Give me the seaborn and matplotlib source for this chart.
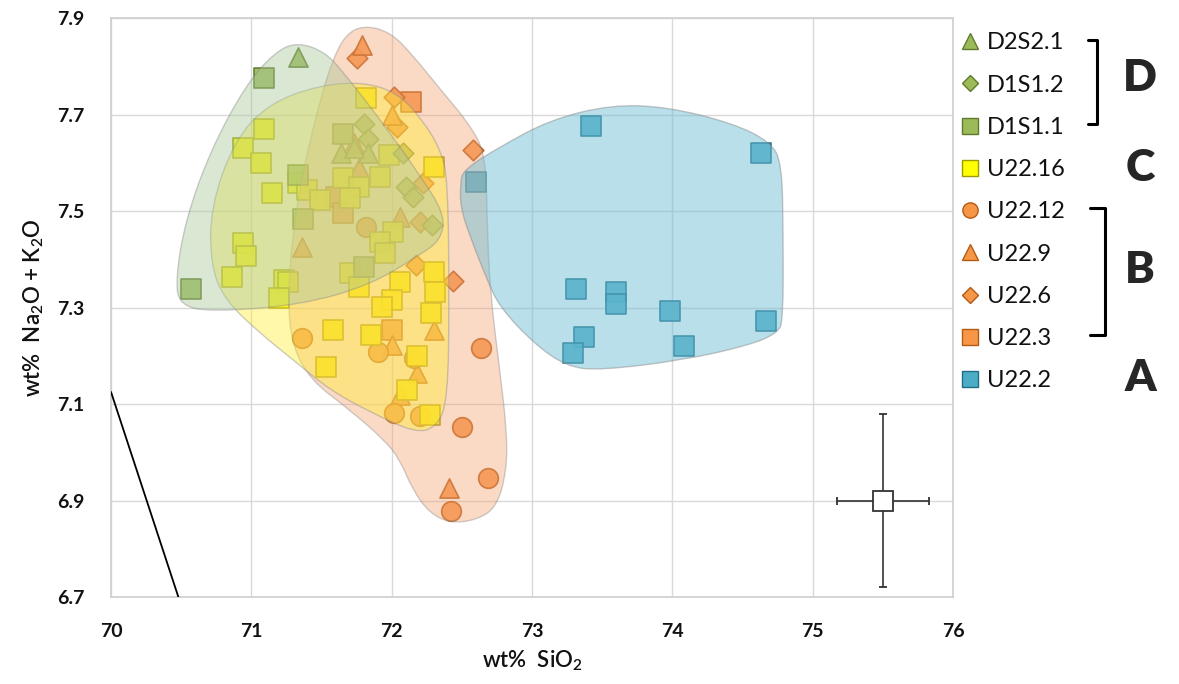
import numpy as np
import pandas as pd
import matplotlib.pyplot as plt
import seaborn as sns
from matplotlib.path import Path
from matplotlib.patches import PathPatch
from matplotlib.lines import Line2D

sns.set_theme(style="whitegrid")
plt.rcParams['font.family'] = ['Lato', 'DejaVu Sans']
plt.rcParams['mathtext.default'] = 'regular'

# ---- data ----
d2s21_x = [71.33, 71.64, 71.83, 71.73]
d2s21_y = [7.82, 7.62, 7.62, 7.63]

d1s12_x = [71.80, 71.83, 72.08, 72.10, 72.15, 72.29]
d1s12_y = [7.68, 7.65, 7.62, 7.55, 7.53, 7.47]

d1s11_x = [71.09, 70.57, 71.37, 71.33, 71.65, 71.80]
d1s11_y = [7.776, 7.338, 7.483, 7.575, 7.66, 7.384]

u2216_x = [71.09, 70.94, 71.07, 71.15, 71.33, 71.40, 71.49, 71.65, 71.82, 70.94,
           70.96, 70.86, 71.23, 71.26, 71.20, 71.58, 71.53, 71.70, 71.77, 71.98,
           72.30, 71.92, 71.77, 71.70, 72.01, 71.92, 71.95, 72.06, 72.30, 72.31,
           72.00, 71.93, 72.28, 71.85, 72.18, 72.11, 72.27]
u2216_y = [7.670, 7.631, 7.600, 7.537, 7.558, 7.543, 7.523, 7.568, 7.734, 7.434,
           7.407, 7.363, 7.357, 7.353, 7.320, 7.253, 7.177, 7.372, 7.342, 7.616,
           7.591, 7.570, 7.550, 7.527, 7.456, 7.436, 7.413, 7.353, 7.374, 7.332,
           7.316, 7.301, 7.289, 7.243, 7.200, 7.129, 7.077]

u2212_x = [71.82, 71.36, 71.90, 72.16, 72.02, 72.20, 72.64, 72.50, 72.69, 72.42]
u2212_y = [7.467, 7.237, 7.208, 7.195, 7.081, 7.075, 7.216, 7.052, 6.947, 6.878]

u229_x = [71.79, 72.00, 71.73, 71.77, 72.06, 71.36, 72.30, 72.00, 72.18, 72.06, 72.41]
u229_y = [7.844, 7.700, 7.640, 7.590, 7.488, 7.425, 7.253, 7.222, 7.164, 7.119, 6.926]

u226_x = [71.75, 72.02, 72.04, 72.58, 72.22, 72.20, 72.17, 72.44]
u226_y = [7.817, 7.736, 7.674, 7.626, 7.558, 7.477, 7.388, 7.355]

u223_x = [72.14, 71.60, 71.65, 72.00]
u223_y = [7.726, 7.529, 7.496, 7.253]

u222_x = [73.42, 74.63, 72.60, 73.31, 73.60, 73.60, 73.98, 74.67, 73.37, 73.29, 74.08]
u222_y = [7.676, 7.620, 7.560, 7.338, 7.332, 7.307, 7.293, 7.272, 7.239, 7.206, 7.220]

# field outlines (control points of smooth closed curves)
hull_d_x = [71.33, 71.53, 71.67, 71.92, 72.20, 72.38, 72.35, 72.20, 71.85, 71.35,
            70.71, 70.49, 70.46, 70.53, 70.71, 70.96, 71.17]
hull_d_y = [7.850, 7.829, 7.782, 7.689, 7.575, 7.492, 7.440, 7.409, 7.347, 7.305,
            7.291, 7.305, 7.357, 7.481, 7.626, 7.761, 7.830]

hull_c_x = [70.71, 70.88, 71.13, 71.49, 71.80, 72.04, 72.22, 72.35, 72.40, 72.41,
            72.40, 72.32, 72.17, 71.85, 71.56, 71.30, 71.06, 70.81, 70.71]
hull_c_y = [7.508, 7.647, 7.724, 7.761, 7.767, 7.745, 7.689, 7.626, 7.564, 7.316,
            7.108, 7.052, 7.040, 7.083, 7.129, 7.191, 7.247, 7.316, 7.388]

hull_b_x = [71.80, 71.99, 72.15, 72.35, 72.56, 72.67, 72.68, 72.70, 72.77, 72.82,
            72.82, 72.75, 72.61, 72.42, 72.27, 72.15, 72.06, 71.95, 71.70, 71.42,
            71.29, 71.26, 71.29, 71.35, 71.42, 71.50, 71.58, 71.67]
hull_b_y = [7.885, 7.871, 7.823, 7.751, 7.678, 7.616, 7.481, 7.336, 7.170, 7.046,
            6.963, 6.887, 6.860, 6.853, 6.874, 6.922, 6.984, 7.025, 7.088, 7.150,
            7.222, 7.316, 7.440, 7.554, 7.647, 7.740, 7.813, 7.865]

hull_a_x = [72.51, 72.77, 73.13, 73.56, 73.96, 74.43, 74.70, 74.78, 74.79, 74.79,
            74.75, 74.55, 74.08, 73.49, 73.25, 73.01, 72.77, 72.68, 72.56, 72.49, 72.49]
hull_a_y = [7.585, 7.633, 7.689, 7.720, 7.716, 7.682, 7.643, 7.599, 7.461, 7.274,
            7.247, 7.222, 7.191, 7.170, 7.177, 7.226, 7.301, 7.357, 7.446, 7.508, 7.558]

# analytical uncertainty (2 sigma) and boundary line of the TAS field
err_x, err_y = [75.5], [6.9]
err_dx, err_dy = 0.33, 0.18
tas_x = [70.0, 70.48]
tas_y = [7.125, 6.70]

series = [
    ('D2S2.1', d2s21_x, d2s21_y, '^', '#9BBB59', '#5f7a2e', 190),
    ('D1S1.2', d1s12_x, d1s12_y, 'D', '#9BBB59', '#5f7a2e', 110),
    ('D1S1.1', d1s11_x, d1s11_y, 's', '#9BBB59', '#5f7a2e', 200),
    ('U22.16', u2216_x, u2216_y, 's', '#FFFF00', '#9e9a00', 200),
    ('U22.12', u2212_x, u2212_y, 'o', '#F79646', '#b35a15', 200),
    ('U22.9', u229_x, u229_y, '^', '#F79646', '#b35a15', 190),
    ('U22.6', u226_x, u226_y, 'D', '#F79646', '#b35a15', 110),
    ('U22.3', u223_x, u223_y, 's', '#F79646', '#b35a15', 200),
    ('U22.2', u222_x, u222_y, 's', '#4BACC6', '#1f6e85', 200),
]

fig = plt.figure(figsize=(11.79, 6.84), dpi=100)
ax = fig.add_axes([111 / 1179, 1 - 597 / 684, 842 / 1179, 579 / 684])

for name, xs, ys, mk, fc, ec, s in series[::-1]:
    df = pd.DataFrame({'x': xs, 'y': ys})
    sns.scatterplot(data=df, x='x', y='y', marker=mk, color=fc, edgecolor=ec,
                    linewidth=1.2, s=s, alpha=0.92, ax=ax, zorder=2)


def smooth_patch(xs, ys, fc, alpha):
    pts = np.column_stack([xs, ys])
    nxt = np.roll(pts, -1, axis=0)
    mids = (pts + nxt) / 2
    verts = [mids[-1]]
    codes = [Path.MOVETO]
    for p, m in zip(pts, mids):
        verts += [p, m]
        codes += [Path.CURVE3, Path.CURVE3]
    patch = PathPatch(Path(verts, codes), facecolor=fc, edgecolor='#8a8a8a',
                      lw=1.0, alpha=alpha, zorder=3)
    ax.add_patch(patch)


smooth_patch(hull_b_x, hull_b_y, '#f4a070', 0.40)
smooth_patch(hull_c_x, hull_c_y, '#ffee33', 0.42)
smooth_patch(hull_d_x, hull_d_y, '#a8c798', 0.42)
smooth_patch(hull_a_x, hull_a_y, '#6cbcd4', 0.48)

ax.plot(tas_x, tas_y, color='black', lw=1.3, zorder=4)
ax.errorbar(err_x, err_y, xerr=err_dx, yerr=err_dy, fmt='s', ms=15,
            mfc='white', mec='#333333', mew=1.3, ecolor='#333333',
            elinewidth=1.2, capsize=3, zorder=5)

ax.set_xlim(70, 76)
ax.set_ylim(6.7, 7.9)
ax.set_xticks(range(70, 77))
ax.set_yticks(np.round(np.arange(6.7, 7.95, 0.2), 1))
ax.grid(color='#d9d9d9', lw=1)
for sp in ax.spines.values():
    sp.set_color('#d0d0d0')
ax.tick_params(axis='both', labelsize=14, pad=13, labelcolor='#111111')
for lab in ax.get_xticklabels() + ax.get_yticklabels():
    lab.set_fontweight('bold')
ax.set_xlabel('wt%  SiO$_2$', fontsize=16, labelpad=6, fontweight='semibold', color='#111111')
ax.set_ylabel('wt%  Na$_2$O + K$_2$O', fontsize=16, labelpad=8, fontweight='semibold',
              color='#111111')

handles = [Line2D([], [], ls='', marker=mk, mfc=fc, mec=ec, mew=1.0,
                  ms=(8 if mk == 'D' else 11))
           for name, xs, ys, mk, fc, ec, s in series]
labels = [s[0] for s in series]
fig.legend(handles, labels, loc='upper left', bbox_to_anchor=(949 / 1179, 1 - 23 / 684),
           frameon=False, fontsize=17, handletextpad=0.2, labelspacing=0.9,
           handlelength=1.0, borderaxespad=0, labelcolor='#111111')

# group brackets and letters
bk = dict(color='black', lw=2.2, transform=fig.transFigure, clip_on=False)
fig.add_artist(Line2D([1088 / 1179, 1097 / 1179, 1097 / 1179, 1088 / 1179],
                      [1 - 40 / 684, 1 - 40 / 684, 1 - 124 / 684, 1 - 124 / 684], **bk))
fig.add_artist(Line2D([1090 / 1179, 1105 / 1179, 1105 / 1179, 1090 / 1179],
                      [1 - 208 / 684, 1 - 208 / 684, 1 - 335 / 684, 1 - 335 / 684], **bk))
for letter, yy in [('D', 78), ('C', 168), ('B', 270), ('A', 378)]:
    fig.text(1140 / 1179, 1 - yy / 684, letter, fontsize=32, fontweight='heavy',
             ha='center', va='center')

fig.savefig('out.png', dpi=100)
